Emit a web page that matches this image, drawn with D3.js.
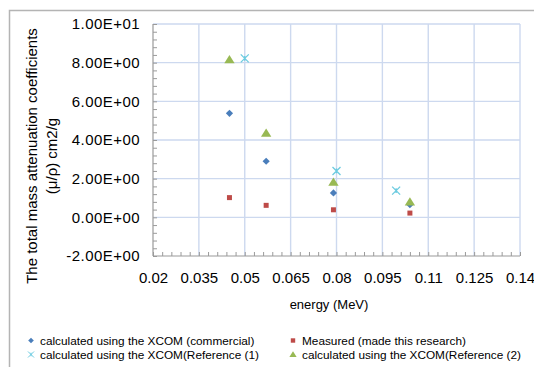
<!DOCTYPE html>
<html>
<head>
<meta charset="utf-8">
<script src="https://cdn.jsdelivr.net/npm/d3@7"></script>
<style>
  body { margin: 0; background: #fff; }
  text { font-family: "Liberation Sans", Arial, sans-serif; fill: #000; }
</style>
</head>
<body>
<div id="chart"></div>
<script>
// values
var energy = [0.045, 0.057, 0.079, 0.104];
var energyRef1 = [0.05, 0.08, 0.0995];
var commercial = [5.38, 2.90, 1.26, 0.65];
var measured = [1.02, 0.62, 0.39, 0.22];
var reference1 = [8.22, 2.40, 1.38];
var reference2 = [8.15, 4.35, 1.82, 0.80];

var xTicks = [0.02, 0.035, 0.05, 0.065, 0.08, 0.095, 0.11, 0.125, 0.14];
var xTickLabels = ["0.02", "0.035", "0.05", "0.065", "0.08", "0.095", "0.11", "0.125", "0.14"];
var yTicks = [-2, 0, 2, 4, 6, 8, 10];
var yTickLabels = ["-2.00E+00", "0.00E+00", "2.00E+00", "4.00E+00", "6.00E+00", "8.00E+00", "1.00E+01"];

var seriesNames = [
    "calculated using the XCOM (commercial)",
    "Measured (made this research)",
    "calculated using the XCOM(Reference (1)",
    "calculated using the XCOM(Reference (2)"
];

var W = 534, H = 367;
var margin = {top: 24, right: 14, bottom: 111, left: 153};
var width = W - margin.left - margin.right,
    height = H - margin.top - margin.bottom;

var svg = d3.select("#chart").append("svg")
    .attr("width", W)
    .attr("height", H);

// outer chart frame
svg.append("rect")
    .attr("x", 9.5).attr("y", 10.5)
    .attr("width", 600).attr("height", 500)
    .attr("fill", "none")
    .attr("stroke", "#b4b4b4")
    .attr("stroke-width", 1.5);

var g = svg.append("g")
    .attr("transform", "translate(" + margin.left + "," + margin.top + ")");

var x = d3.scaleLinear().domain([0.02, 0.14]).range([0, width]);
var y = d3.scaleLinear().domain([-2, 10]).range([height, 0]);

// grid
g.append("g")
    .selectAll("line.vg")
    .data(xTicks.slice(1))
    .enter().append("line")
    .attr("x1", function(d) { return x(d); })
    .attr("x2", function(d) { return x(d); })
    .attr("y1", 0).attr("y2", height)
    .attr("stroke", "#cdd9ef").attr("stroke-width", 1.4);

g.append("g")
    .selectAll("line.hg")
    .data(yTicks.slice(1))
    .enter().append("line")
    .attr("x1", 0).attr("x2", width)
    .attr("y1", function(d) { return y(d); })
    .attr("y2", function(d) { return y(d); })
    .attr("stroke", "#cdd9ef").attr("stroke-width", 1.4);

// minor ticks
var xMinor = d3.range(0, 41).map(function(i) { return 0.02 + i * 0.003; });
var yMinor = d3.range(0, 31).map(function(i) { return -2 + i * 0.4; });

g.append("g")
    .call(d3.axisLeft(y).tickValues(yMinor).tickSize(-4).tickFormat(""))
    .call(function(a) { a.select(".domain").remove(); })
    .selectAll("line").attr("stroke", "#9a9a9a");

g.append("g")
    .attr("transform", "translate(0," + height + ")")
    .call(d3.axisBottom(x).tickValues(xMinor).tickSize(-4).tickFormat(""))
    .call(function(a) { a.select(".domain").remove(); })
    .selectAll("line").attr("stroke", "#9a9a9a");

// axis lines
g.append("line").attr("x1", 0).attr("x2", 0).attr("y1", 0).attr("y2", height)
    .attr("stroke", "#9a9a9a").attr("stroke-width", 1.2);
g.append("line").attr("x1", 0).attr("x2", width).attr("y1", height).attr("y2", height)
    .attr("stroke", "#9a9a9a").attr("stroke-width", 1.2);

// tick labels
var yAxis = g.append("g")
    .call(d3.axisLeft(y).tickValues(yTicks).tickSize(0).tickPadding(13)
        .tickFormat(function(d, i) { return yTickLabels[i]; }));
yAxis.select(".domain").remove();
yAxis.selectAll("text").style("font-size", "15px").style("letter-spacing", "0.45px")
    .style("font-family", "Liberation Sans, Arial");

var xAxis = g.append("g")
    .attr("transform", "translate(0," + height + ")")
    .call(d3.axisBottom(x).tickValues(xTicks).tickSize(0).tickPadding(16)
        .tickFormat(function(d, i) { return xTickLabels[i]; }));
xAxis.select(".domain").remove();
xAxis.selectAll("text").style("font-size", "15px").style("font-family", "Liberation Sans, Arial");

// axis titles
svg.append("text")
    .attr("x", 329).attr("y", 309)
    .attr("text-anchor", "middle")
    .style("font-size", "13px")
    .text("energy (MeV)");

var yTitle = svg.append("text")
    .attr("transform", "translate(37,156) rotate(-90)")
    .attr("text-anchor", "middle")
    .style("font-size", "15px");
yTitle.append("tspan").attr("x", 0).attr("y", 0).text("The total mass attenuation coefficients");
yTitle.append("tspan").attr("x", 0).attr("y", 20).text("(\u03bc/\u03c1) cm2/g");

// markers
function diamond(r) { return "M0," + (-r) + "L" + r + ",0L0," + r + "L" + (-r) + ",0Z"; }
function square(r) { return "M" + (-r) + "," + (-r) + "H" + r + "V" + r + "H" + (-r) + "Z"; }
function triangle(r) { return "M0," + (-r) + "L" + (r * 1.1) + "," + (r * 0.75) + "L" + (-r * 1.1) + "," + (r * 0.75) + "Z"; }
function star(r) {
    return "M" + (-r) + "," + (-r) + "L" + r + "," + r + "M" + (-r) + "," + r + "L" + r + "," + (-r) +
        "M0," + (-r * 0.6) + "V" + (r * 0.6);
}

var series = [
    {xs: energy, ys: commercial, path: diamond(3.6), fill: "#4a7ebb", stroke: "none"},
    {xs: energy, ys: measured, path: square(2.5), fill: "#be4b48", stroke: "none"},
    {xs: energyRef1, ys: reference1, path: star(4), fill: "none", stroke: "#6ccbe0"},
    {xs: energy, ys: reference2, path: triangle(4.7), fill: "#98b954", stroke: "none"}
];

series.forEach(function(s) {
    g.append("g").selectAll("path")
        .data(s.ys)
        .enter().append("path")
        .attr("transform", function(d, i) { return "translate(" + x(s.xs[i]) + "," + y(d) + ")"; })
        .attr("d", s.path)
        .attr("fill", s.fill)
        .attr("stroke", s.stroke)
        .attr("stroke-width", 1.3);
});

// legend
var legPos = [[31, 340.5], [293, 340.5], [31, 354.5], [293, 354.5]];
var legSize = [diamond(2.8), square(2.2), star(3), triangle(3.3)];
series.forEach(function(s, i) {
    var lg = svg.append("g").attr("transform", "translate(" + legPos[i][0] + "," + legPos[i][1] + ")");
    lg.append("path").attr("d", legSize[i])
        .attr("fill", s.fill).attr("stroke", s.stroke).attr("stroke-width", 1);
    lg.append("text").attr("x", 9).attr("y", 4)
        .style("font-size", "11.8px")
        .text(seriesNames[i]);
});
</script>
</body>
</html>
